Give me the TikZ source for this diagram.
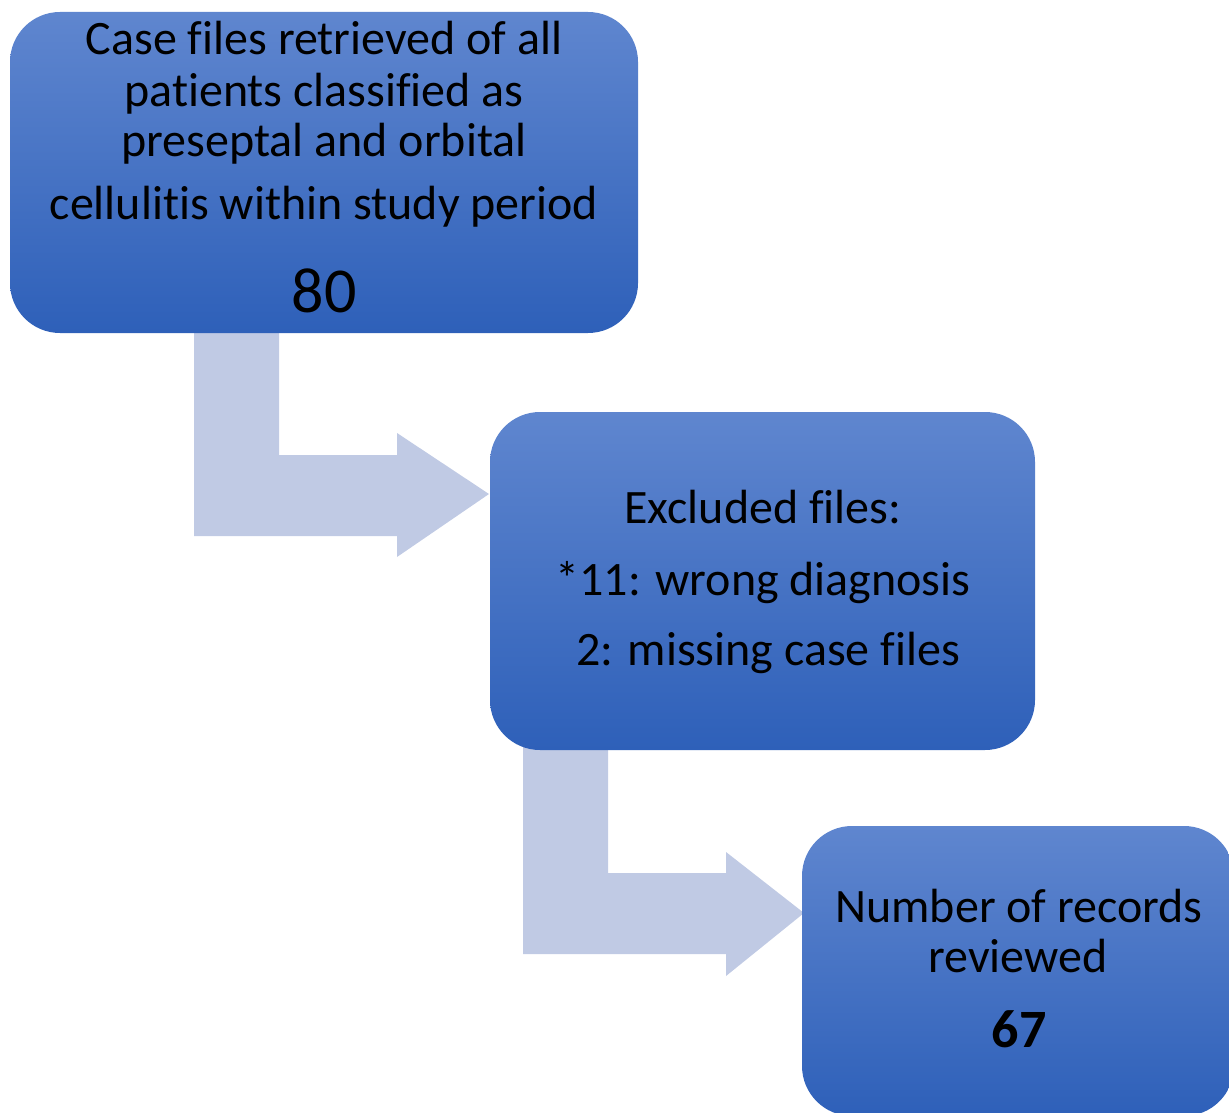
\documentclass[tikz,border=0pt]{standalone}
\usepackage{fontspec}
\setmainfont{Carlito}[Ligatures=NoCommon]
\definecolor{boxtop}{HTML}{5F86CF}
\definecolor{boxbot}{HTML}{2E60B9}
\definecolor{arrowfill}{HTML}{C0CAE4}
\begin{document}
\begin{tikzpicture}[x=0.5pt,y=-0.5pt,
  flowbox/.style={rectangle, rounded corners=25pt, draw=none, top color=boxtop, bottom color=boxbot, inner sep=0pt},
  bentarrow/.style={fill=arrowfill, draw=none},
  txt/.style={anchor=base, inner sep=0pt, font=\fontsize{24}{28}\selectfont},
  bignum/.style={anchor=base, inner sep=0pt, font=\fontsize{32}{36}\selectfont},
  boldnum/.style={anchor=base, inner sep=0pt, font=\fontsize{27}{30}\selectfont\bfseries}]
\useasboundingbox (0,0) rectangle (1229,1112);
% block arrows (behind boxes)
\coordinate (t1) at (489,494);
\coordinate (t2) at (804,913);
\fill[bentarrow] (194,320) -- (279,320) -- (279,455) -- (397,455) -- (397,433) -- (t1)
  -- (397,557) -- (397,536) -- (194,536) -- cycle;
\fill[bentarrow] (523,740) -- (608,740) -- (608,873) -- (726,873) -- (726,852) -- (t2)
  -- (726,976) -- (726,954) -- (523,954) -- cycle;
% boxes
\path (10,12) rectangle coordinate (c1) (638,333);
\node[flowbox, minimum width=314pt, minimum height=160.5pt] (b1) at (c1) {};
\path (490,412) rectangle coordinate (c2) (1035,750);
\node[flowbox, minimum width=272.5pt, minimum height=169pt] (b2) at (c2) {};
\path (802,826) rectangle coordinate (c3) (1234,1116);
\node[flowbox, minimum width=216pt, minimum height=145pt] (b3) at (c3) {};
% texts box 1
\node[txt] (l11) at (324,55) {Case files retrieved of all};
\node[txt] (l12) at (324,107) {patients classified as};
\node[txt] (l13) at (324,157) {preseptal and orbital};
\node[txt] (l14) at (324,220) {cellulitis within study period};
\node[bignum] (n1) at (324,313) {80};
% texts box 2
\node[txt] (l21) at (763,523) {Excluded files:};
\node[txt] (l22) at (763,595) {*11: wrong diagnosis};
\node[txt] (l23) at (768,665) {2: missing case files};
% texts box 3
\node[txt] (l31) at (1019,922) {Number of records};
\node[txt] (l32) at (1018,972) {reviewed};
\node[boldnum] (n3) at (1019,1047) {67};
\end{tikzpicture}
\end{document}
